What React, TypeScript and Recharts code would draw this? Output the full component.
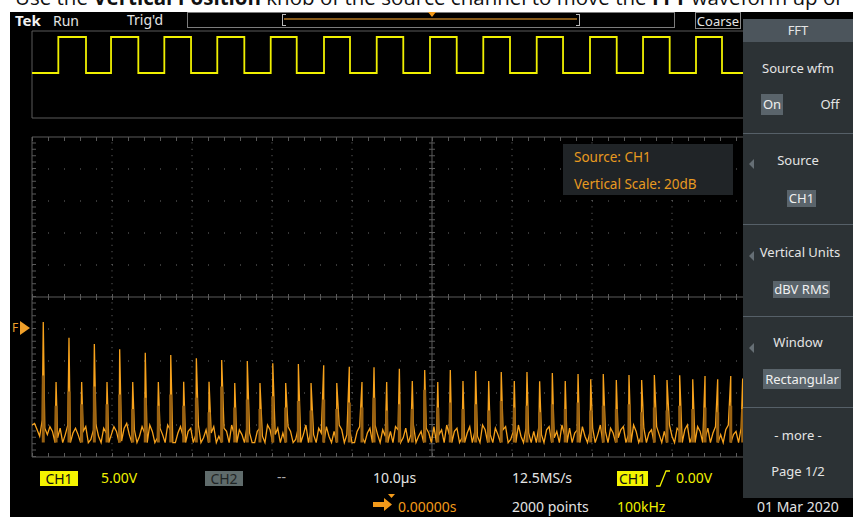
import { ComposedChart, LineChart, Line, XAxis, YAxis, ReferenceLine } from 'recharts'

const FONT = '"Noto Sans", "Open Sans", sans-serif'
const YELLOW = '#f0f000'
const ORANGE = '#f7a21c'
const ORANGE_DARK = '#9a6212'
const BORDER = '#5a5a5a'
const DOTS = '#6e6e6e'
const TEXT = '#e4e4e4'

// CH1 square wave (top panel), 10 µs/div, edges
const WAVE_HIGH_V = 5
const WAVE_LOW_V = 0
const WAVE_Y_DOMAIN = [-6.25, 5.83]
const WAVE_RISE_US = [3.29, 9.88, 16.54, 23.16, 29.84, 36.5, 43.09, 49.75, 56.41, 63.09, 69.75, 76.38, 83.0]
const WAVE_FALL_US = [6.75, 13.29, 19.88, 26.54, 33.09, 39.75, 46.41, 53.09, 59.75, 66.38, 73.09, 79.71, 86.25]

// FFT: 0 - 6.25 MHz across, 20 dB/div
const FFT_SPAN_KHZ = 6250
const FFT_TOP_DBV = 120
const FFT_BOTTOM_DBV = -80
const FFT_FREQ_DIVS_KHZ = [625, 1250, 1875, 2500, 3125, 3750, 4375, 5000, 5625]
const FFT_LEVEL_DIVS_DBV = [100, 80, 60, 40, 20, 0, -20, -40, -60]
const FFT_CENTRE_KHZ = 3125
const FFT_CENTRE_DBV = 20

// harmonic spikes
const HARMONIC_KHZ = [
  88, 188, 289, 388, 487, 586, 685, 787, 885, 987,
  1084, 1185, 1284, 1383, 1482, 1584, 1682, 1781, 1881, 1982,
  2081, 2180, 2279, 2381, 2479, 2578, 2672, 2771, 2870, 2971,
  3068, 3170, 3268, 3367, 3466, 3568, 3666, 3768, 3867, 3966,
  4065, 4166, 4266, 4365, 4463, 4565, 4664, 4763, 4862, 4961,
  5060, 5162, 5258, 5357, 5459, 5552,
]
const HARMONIC_DBV = [
  4.4, -33.1, -5.4, -33.1, -9.4, -33.1, -12.7, -33.1, -14.8, -33.1,
  -16.3, -33, -18.3, -33, -19.4, -33.8, -20, -33.8, -21.4, -33.8,
  -21.9, -33.8, -22.7, -33.8, -23.6, -33.1, -23.9, -33.1, -24.8, -32.5,
  -25.6, -33.1, -25.6, -32.5, -26.3, -32.5, -26.9, -32.5, -26.9, -32.7,
  -27.5, -32.5, -28.1, -31.4, -28.1, -31.9, -28.8, -31.9, -28.8, -31.9,
  -28.9, -31.4, -29.4, -31.4, -29.4, -31,
]
// darker, thicker lower part of each spike
const SHOULDER_DBV = [
  -29, -48, -39, -47, -36, -47, -41, -50, -43, -48,
  -41, -48, -43, -52, -36, -49, -44, -50, -42, -49,
  -45, -51, -44, -50, -46, -49, -43, -51, -47, -50,
  -38, -49, -46, -50, -47, -51, -45, -49, -48, -52,
  -47, -50, -46, -51, -48, -50, -47, -52, -49, -51,
  -48, -50, -49, -52, -48, -50,
]
// noise floor, one reading every 20 kHz from DC
const NOISE_FLOOR_DBV = -71
const NOISE_STEP_KHZ = 20
const NOISE_DBV = [
  -60, -59, -63, -67, -57, -62, -66, -61, -64, -71,
  -68, -62, -71, -66, -60, -71, -65, -62, -66, -71,
  -64, -61, -71, -69, -63, -60, -67, -71, -62, -65,
  -71, -66, -61, -64, -71, -70, -62, -59, -66, -71,
  -63, -71, -67, -61, -65, -71, -60, -64, -71, -68,
  -62, -66, -71, -60, -63, -71, -71, -65, -61, -67,
  -71, -64, -62, -71, -66, -60, -71, -68, -63, -71,
  -65, -61, -71, -67, -71, -62, -64, -71, -60, -66,
  -71, -63, -66, -71, -61, -65, -71, -71, -64, -62,
  -67, -71, -60, -63, -71, -66, -62, -71, -65, -71,
  -61, -64, -71, -69, -62, -71, -66, -60, -71, -63,
  -66, -71, -62, -65, -71, -61, -67, -71, -64, -71,
  -60, -63, -71, -66, -62, -71, -71, -64, -61, -68,
  -71, -65, -62, -71, -60, -66, -71, -63, -67, -71,
  -64, -71, -61, -63, -71, -68, -62, -71, -66, -60,
  -71, -67, -64, -71, -62, -65, -71, -61, -71, -66,
  -63, -71, -60, -66, -71, -64, -62, -71, -68, -71,
  -65, -61, -71, -64, -67, -71, -60, -63, -71, -66,
  -71, -62, -66, -71, -63, -61, -71, -69, -64, -71,
  -60, -67, -71, -62, -65, -71, -64, -71, -61, -66,
  -71, -63, -61, -71, -68, -64, -71, -60, -66, -71,
  -62, -71, -65, -63, -71, -61, -67, -71, -64, -62,
  -71, -66, -60, -71, -64, -71, -62, -65, -71, -68,
  -63, -61, -71, -66, -71, -60, -64, -71, -67, -62,
  -71, -65, -63, -71, -61, -66, -71, -64, -71, -60,
  -67, -71, -62, -64, -71, -63, -60, -71, -66, -71,
  -61, -64, -71, -68, -62, -71, -65, -61, -71, -66,
  -71, -63, -60, -71, -66, -64, -71, -62, -67, -71,
  -64,
]

const M4 = { top: 4, right: 4, bottom: 4, left: 4 }

function buildWave() {
  const pts = [{ t: 0, v: WAVE_LOW_V }]
  WAVE_RISE_US.forEach((r, i) => {
    const f = WAVE_FALL_US[i]
    pts.push({ t: r, v: WAVE_LOW_V }, { t: r, v: WAVE_HIGH_V })
    pts.push({ t: f, v: WAVE_HIGH_V }, { t: f, v: WAVE_LOW_V })
  })
  pts.push({ t: 100, v: WAVE_LOW_V })
  return pts
}

function buildSpectrum() {
  const pts = NOISE_DBV.map((dbv, i) => ({ freq: i * NOISE_STEP_KHZ, dbv }))
  HARMONIC_KHZ.forEach((freq, i) => pts.push({ freq, dbv: HARMONIC_DBV[i] }))
  return pts.sort((a, b) => a.freq - b.freq)
}

// one vertical stroke per harmonic, broken apart with nulls
function buildShoulders() {
  const pts: { freq: number; low: number | null }[] = []
  HARMONIC_KHZ.forEach((freq, i) => {
    pts.push({ freq, low: NOISE_FLOOR_DBV }, { freq, low: SHOULDER_DBV[i] }, { freq, low: null })
  })
  return pts
}

function Txt({ x, y, children, color = TEXT, size = 14, bold = false, w = 0, h = 20 }: any) {
  // w > 0 → centred on x
  return (
    <div
      style={{
        position: 'absolute',
        left: w ? x - w / 2 : x,
        top: y - h / 2,
        width: w || undefined,
        height: h,
        lineHeight: h + 'px',
        textAlign: w ? 'center' : 'left',
        fontSize: size,
        fontWeight: bold ? 700 : 400,
        color,
        whiteSpace: 'nowrap',
      }}
    >
      {children}
    </div>
  )
}

function Chip({ x, y, w, h, bg, color, children, size = 14 }: any) {
  return (
    <div
      style={{
        position: 'absolute',
        left: x,
        top: y,
        width: w,
        height: h,
        background: bg,
        color,
        fontSize: size,
        lineHeight: h + 'px',
        textAlign: 'center',
        whiteSpace: 'nowrap',
      }}
    >
      {children}
    </div>
  )
}

function Menu() {
  const sep = (top: number) => (
    <div key={top} style={{ position: 'absolute', left: 0, top, width: 110, height: 1, background: '#566068' }} />
  )
  const arrow = (top: number) => (
    <div
      key={'a' + top}
      style={{
        position: 'absolute',
        left: 6,
        top: top - 5,
        width: 0,
        height: 0,
        borderTop: '5px solid transparent',
        borderBottom: '5px solid transparent',
        borderRight: '5px solid #666f75',
      }}
    />
  )
  return (
    <div style={{ position: 'absolute', left: 743, top: 19, width: 110, height: 479, background: '#2c3235' }}>
      <div style={{ position: 'absolute', left: 0, top: 0, width: 110, height: 23, background: '#4c555c' }} />
      <Txt x={55} y={11} w={110} size={13}>FFT</Txt>
      <Txt x={55} y={49} w={110} size={13}>Source wfm</Txt>
      <Chip x={18} y={75} w={22} h={21} bg="#5a646b" color="#f0f0f0" size={13}>On</Chip>
      <Txt x={87} y={85} w={40} size={13}>Off</Txt>
      {sep(114)}
      {arrow(145)}
      <Txt x={55} y={141} w={110} size={13}>Source</Txt>
      <Chip x={44} y={171} w={29} h={17} bg="#5a646b" color="#f0f0f0" size={13}>CH1</Chip>
      {sep(205)}
      {arrow(237)}
      <Txt x={57} y={233} w={106} size={13}>Vertical Units</Txt>
      <Chip x={30} y={262} w={57} h={17} bg="#5a646b" color="#f0f0f0" size={13}>dBV RMS</Chip>
      {sep(297)}
      {arrow(329)}
      <Txt x={55} y={323} w={110} size={13}>Window</Txt>
      <Chip x={20} y={350} w={78} h={20} bg="#5a646b" color="#f0f0f0" size={13}>Rectangular</Chip>
      {sep(388)}
      <Txt x={55} y={416} w={110} size={13}>- more -</Txt>
      <Txt x={55} y={452} w={110} size={13}>Page 1/2</Txt>
    </div>
  )
}

export default function App() {
  const wave = buildWave()
  const spectrum = buildSpectrum()
  const shoulders = buildShoulders()

  return (
    <div
      style={{
        position: 'absolute',
        left: 0,
        top: 0,
        width: 853,
        height: 517,
        background: '#fff',
        overflow: 'hidden',
        fontFamily: FONT,
      }}
    >
      {/* caption of the page the screenshot came from, cut off at the top */}
      <div style={{ position: 'absolute', left: 0, top: 0, width: 853, height: 12, overflow: 'hidden' }}>
        <div
          style={{
            position: 'absolute',
            left: 15,
            top: -15,
            fontFamily: '"Open Sans", sans-serif',
            fontSize: 20.5,
            lineHeight: '24px',
            color: '#111',
            whiteSpace: 'nowrap',
          }}
        >
          Use the <b>Vertical Position</b> knob of the source channel to move the <b>FFT</b> waveform up or
        </div>
      </div>

      <div style={{ position: 'absolute', left: 10, top: 12, width: 843, height: 505, background: '#000' }} />

      {/* status line */}
      <Txt x={15} y={20} h={16} size={15} bold color="#f2f2f2">Tek</Txt>
      <Txt x={53} y={21} h={16} size={14}>Run</Txt>
      <Txt x={127} y={20} h={16} size={14}>Trig'd</Txt>
      <div style={{ position: 'absolute', left: 187, top: 12, width: 488, height: 16, border: '1px solid #7c7c7c', boxSizing: 'border-box' }} />
      <div style={{ position: 'absolute', left: 284, top: 18, width: 293, height: 2, background: '#86591a' }} />
      <div style={{ position: 'absolute', left: 282, top: 14, width: 3, height: 10, border: '1px solid #bbb', borderRight: 'none' }} />
      <div style={{ position: 'absolute', left: 576, top: 14, width: 3, height: 10, border: '1px solid #bbb', borderLeft: 'none' }} />
      <div
        style={{
          position: 'absolute',
          left: 428,
          top: 12,
          width: 0,
          height: 0,
          borderLeft: '4px solid transparent',
          borderRight: '4px solid transparent',
          borderTop: '5px solid #f39a1a',
        }}
      />
      <div style={{ position: 'absolute', left: 695, top: 12, width: 46, height: 17, border: '1px solid #8a8a8a', boxSizing: 'border-box' }} />
      <Txt x={718} y={21} h={16} w={46} size={13}>Coarse</Txt>

      {/* time-domain source waveform */}
      <div style={{ position: 'absolute', left: 28, top: 27 }}>
        <LineChart width={808} height={95} data={wave} margin={M4}>
          <XAxis type="number" dataKey="t" domain={[0, 100]} hide allowDataOverflow />
          <YAxis type="number" domain={WAVE_Y_DOMAIN} hide allowDataOverflow />
          <ReferenceLine x={0} stroke={BORDER} />
          <ReferenceLine x={100} stroke={BORDER} />
          <ReferenceLine y={WAVE_Y_DOMAIN[0]} stroke={BORDER} />
          <ReferenceLine y={WAVE_Y_DOMAIN[1]} stroke={BORDER} />
          <Line dataKey="v" type="linear" stroke={YELLOW} strokeWidth={1.8} dot={false} isAnimationActive={false} />
        </LineChart>
      </div>

      {/* FFT graticule and trace */}
      <div style={{ position: 'absolute', left: 28, top: 133 }}>
        <ComposedChart width={808} height={328} data={spectrum} margin={M4}>
          <XAxis type="number" dataKey="freq" domain={[0, FFT_SPAN_KHZ]} hide allowDataOverflow />
          <YAxis type="number" domain={[FFT_BOTTOM_DBV, FFT_TOP_DBV]} hide allowDataOverflow />
          {FFT_FREQ_DIVS_KHZ.filter((f) => f !== FFT_CENTRE_KHZ).map((f) => (
            <ReferenceLine key={'x' + f} x={f} stroke={DOTS} strokeDasharray="1 5.4" />
          ))}
          {FFT_LEVEL_DIVS_DBV.filter((v) => v !== FFT_CENTRE_DBV).map((v) => (
            <ReferenceLine key={'y' + v} y={v} stroke={DOTS} strokeDasharray="1 15" />
          ))}
          <ReferenceLine x={FFT_CENTRE_KHZ} stroke={BORDER} />
          <ReferenceLine x={FFT_CENTRE_KHZ} stroke={BORDER} strokeWidth={6} strokeDasharray="1 5.4" />
          <ReferenceLine y={FFT_CENTRE_DBV} stroke={BORDER} />
          <ReferenceLine y={FFT_CENTRE_DBV} stroke={BORDER} strokeWidth={6} strokeDasharray="1 15" />
          <ReferenceLine x={0} stroke={BORDER} />
          <ReferenceLine x={0} stroke={BORDER} strokeWidth={8} strokeDasharray="1 5.4" ifOverflow="hidden" />
          <ReferenceLine y={FFT_TOP_DBV} stroke={BORDER} />
          <ReferenceLine y={FFT_TOP_DBV} stroke={BORDER} strokeWidth={8} strokeDasharray="1 15" ifOverflow="hidden" />
          <ReferenceLine y={FFT_BOTTOM_DBV} stroke={BORDER} />
          <ReferenceLine y={FFT_BOTTOM_DBV} stroke={BORDER} strokeWidth={8} strokeDasharray="1 15" ifOverflow="hidden" />
          <Line
            dataKey="dbv"
            type="linear"
            stroke={ORANGE}
            strokeWidth={1.3}
            dot={false}
            isAnimationActive={false}
          />
          <Line
            data={shoulders}
            dataKey="low"
            type="linear"
            stroke={ORANGE_DARK}
            strokeWidth={3}
            dot={false}
            connectNulls={false}
            isAnimationActive={false}
          />
        </ComposedChart>
      </div>

      {/* FFT reference marker */}
      <Txt x={12} y={328} size={12} color="#f0a02a">F</Txt>
      <div
        style={{
          position: 'absolute',
          left: 20,
          top: 321,
          width: 0,
          height: 0,
          borderTop: '7px solid transparent',
          borderBottom: '7px solid transparent',
          borderLeft: '10px solid #f0a02a',
        }}
      />

      {/* FFT info box */}
      <div style={{ position: 'absolute', left: 563, top: 144, width: 170, height: 51, background: '#202427' }} />
      <Txt x={574} y={157} size={13.5} color="#e89a20">Source: CH1</Txt>
      <Txt x={574} y={184} size={13.5} color="#e89a20">Vertical Scale: 20dB</Txt>

      <Menu />

      {/* bottom readouts */}
      <Chip x={40} y={471} w={38} h={15} bg="#f4f400" color="#111">CH1</Chip>
      <Txt x={101} y={478} color={YELLOW}>5.00V</Txt>
      <Chip x={205} y={471} w={38} h={15} bg="#5f6b6b" color="#1f2525">CH2</Chip>
      <Txt x={277} y={477} color="#aaa">--</Txt>
      <Txt x={373} y={478}>10.0µs</Txt>
      <Txt x={512} y={478}>12.5MS/s</Txt>
      <Chip x={617} y={471} w={31} h={15} bg="#f4f400" color="#111">CH1</Chip>
      <svg style={{ position: 'absolute', left: 656, top: 470 }} width={14} height={17}>
        <polyline points="0,16 4,16 10,1 14,1" fill="none" stroke={YELLOW} strokeWidth={1.3} />
      </svg>
      <Txt x={676} y={478} color={YELLOW}>0.00V</Txt>

      <svg style={{ position: 'absolute', left: 373, top: 493 }} width={24} height={20}>
        <polygon points="0,9 11,9 11,5 19,11.5 11,18 11,14 0,14" fill="#f39a1a" />
        <polygon points="15,1 22,1 18.5,5" fill="#f39a1a" />
      </svg>
      <Txt x={398} y={507} color="#f39a1a">0.00000s</Txt>
      <Txt x={512} y={507}>2000 points</Txt>
      <Txt x={617} y={507} color={YELLOW}>100kHz</Txt>
      <Txt x={757} y={507}>01 Mar 2020</Txt>
    </div>
  )
}
